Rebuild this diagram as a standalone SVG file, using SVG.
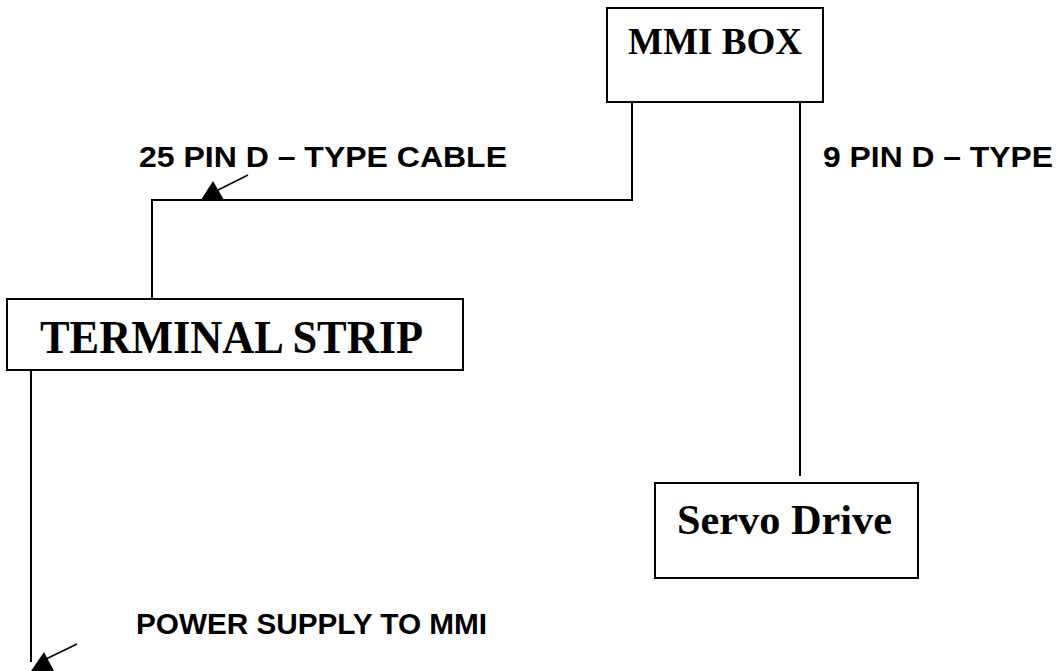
<svg xmlns="http://www.w3.org/2000/svg" width="1056" height="671" viewBox="0 0 1056 671">
<style>
.box{fill:#fff;stroke:#000;stroke-width:2}
.ln{fill:none;stroke:#000;stroke-width:2}
.thin{fill:none;stroke:#000;stroke-width:1.5}
.tb{font-family:"Liberation Serif","Times New Roman",serif;font-weight:bold;fill:#000}
.sb{font-family:"Liberation Sans",Arial,sans-serif;font-weight:bold;fill:#000}
</style>
<rect width="1056" height="671" fill="#fff"/>
<g id="connectors">
<polyline class="ln" points="632,102 632,200 152,200 152,299"/>
<line class="ln" x1="800" y1="98" x2="800" y2="476"/>
<line class="ln" x1="31" y1="370" x2="31" y2="662"/>
<line class="thin" x1="248" y1="175" x2="216" y2="191"/>
<polygon points="213,181 201,200 224,200" fill="#000"/>
<line class="thin" x1="77" y1="644" x2="46" y2="659"/>
<polygon points="44,652 31,671 54,671" fill="#000"/>
</g>
<g id="mmi-box">
<rect class="box" x="607" y="8" width="216" height="94"/>
<text class="tb" x="628" y="54" font-size="37" textLength="174" lengthAdjust="spacingAndGlyphs">MMI BOX</text>
</g>
<g id="terminal-strip">
<rect class="box" x="7" y="299" width="456" height="71"/>
<text class="tb" x="40" y="353" font-size="46" textLength="383" lengthAdjust="spacingAndGlyphs">TERMINAL STRIP</text>
</g>
<g id="servo-drive">
<rect class="box" x="655" y="483" width="263" height="95"/>
<text class="tb" x="677" y="534" font-size="43" textLength="215" lengthAdjust="spacingAndGlyphs">Servo Drive</text>
</g>
<g id="labels">
<text class="sb" x="139" y="167" font-size="29" textLength="368" lengthAdjust="spacingAndGlyphs">25 PIN D – TYPE CABLE</text>
<text class="sb" x="823" y="167" font-size="29" textLength="230" lengthAdjust="spacingAndGlyphs">9 PIN D – TYPE</text>
<text class="sb" x="136" y="634" font-size="29" textLength="351" lengthAdjust="spacingAndGlyphs">POWER SUPPLY TO MMI</text>
</g>
</svg>
